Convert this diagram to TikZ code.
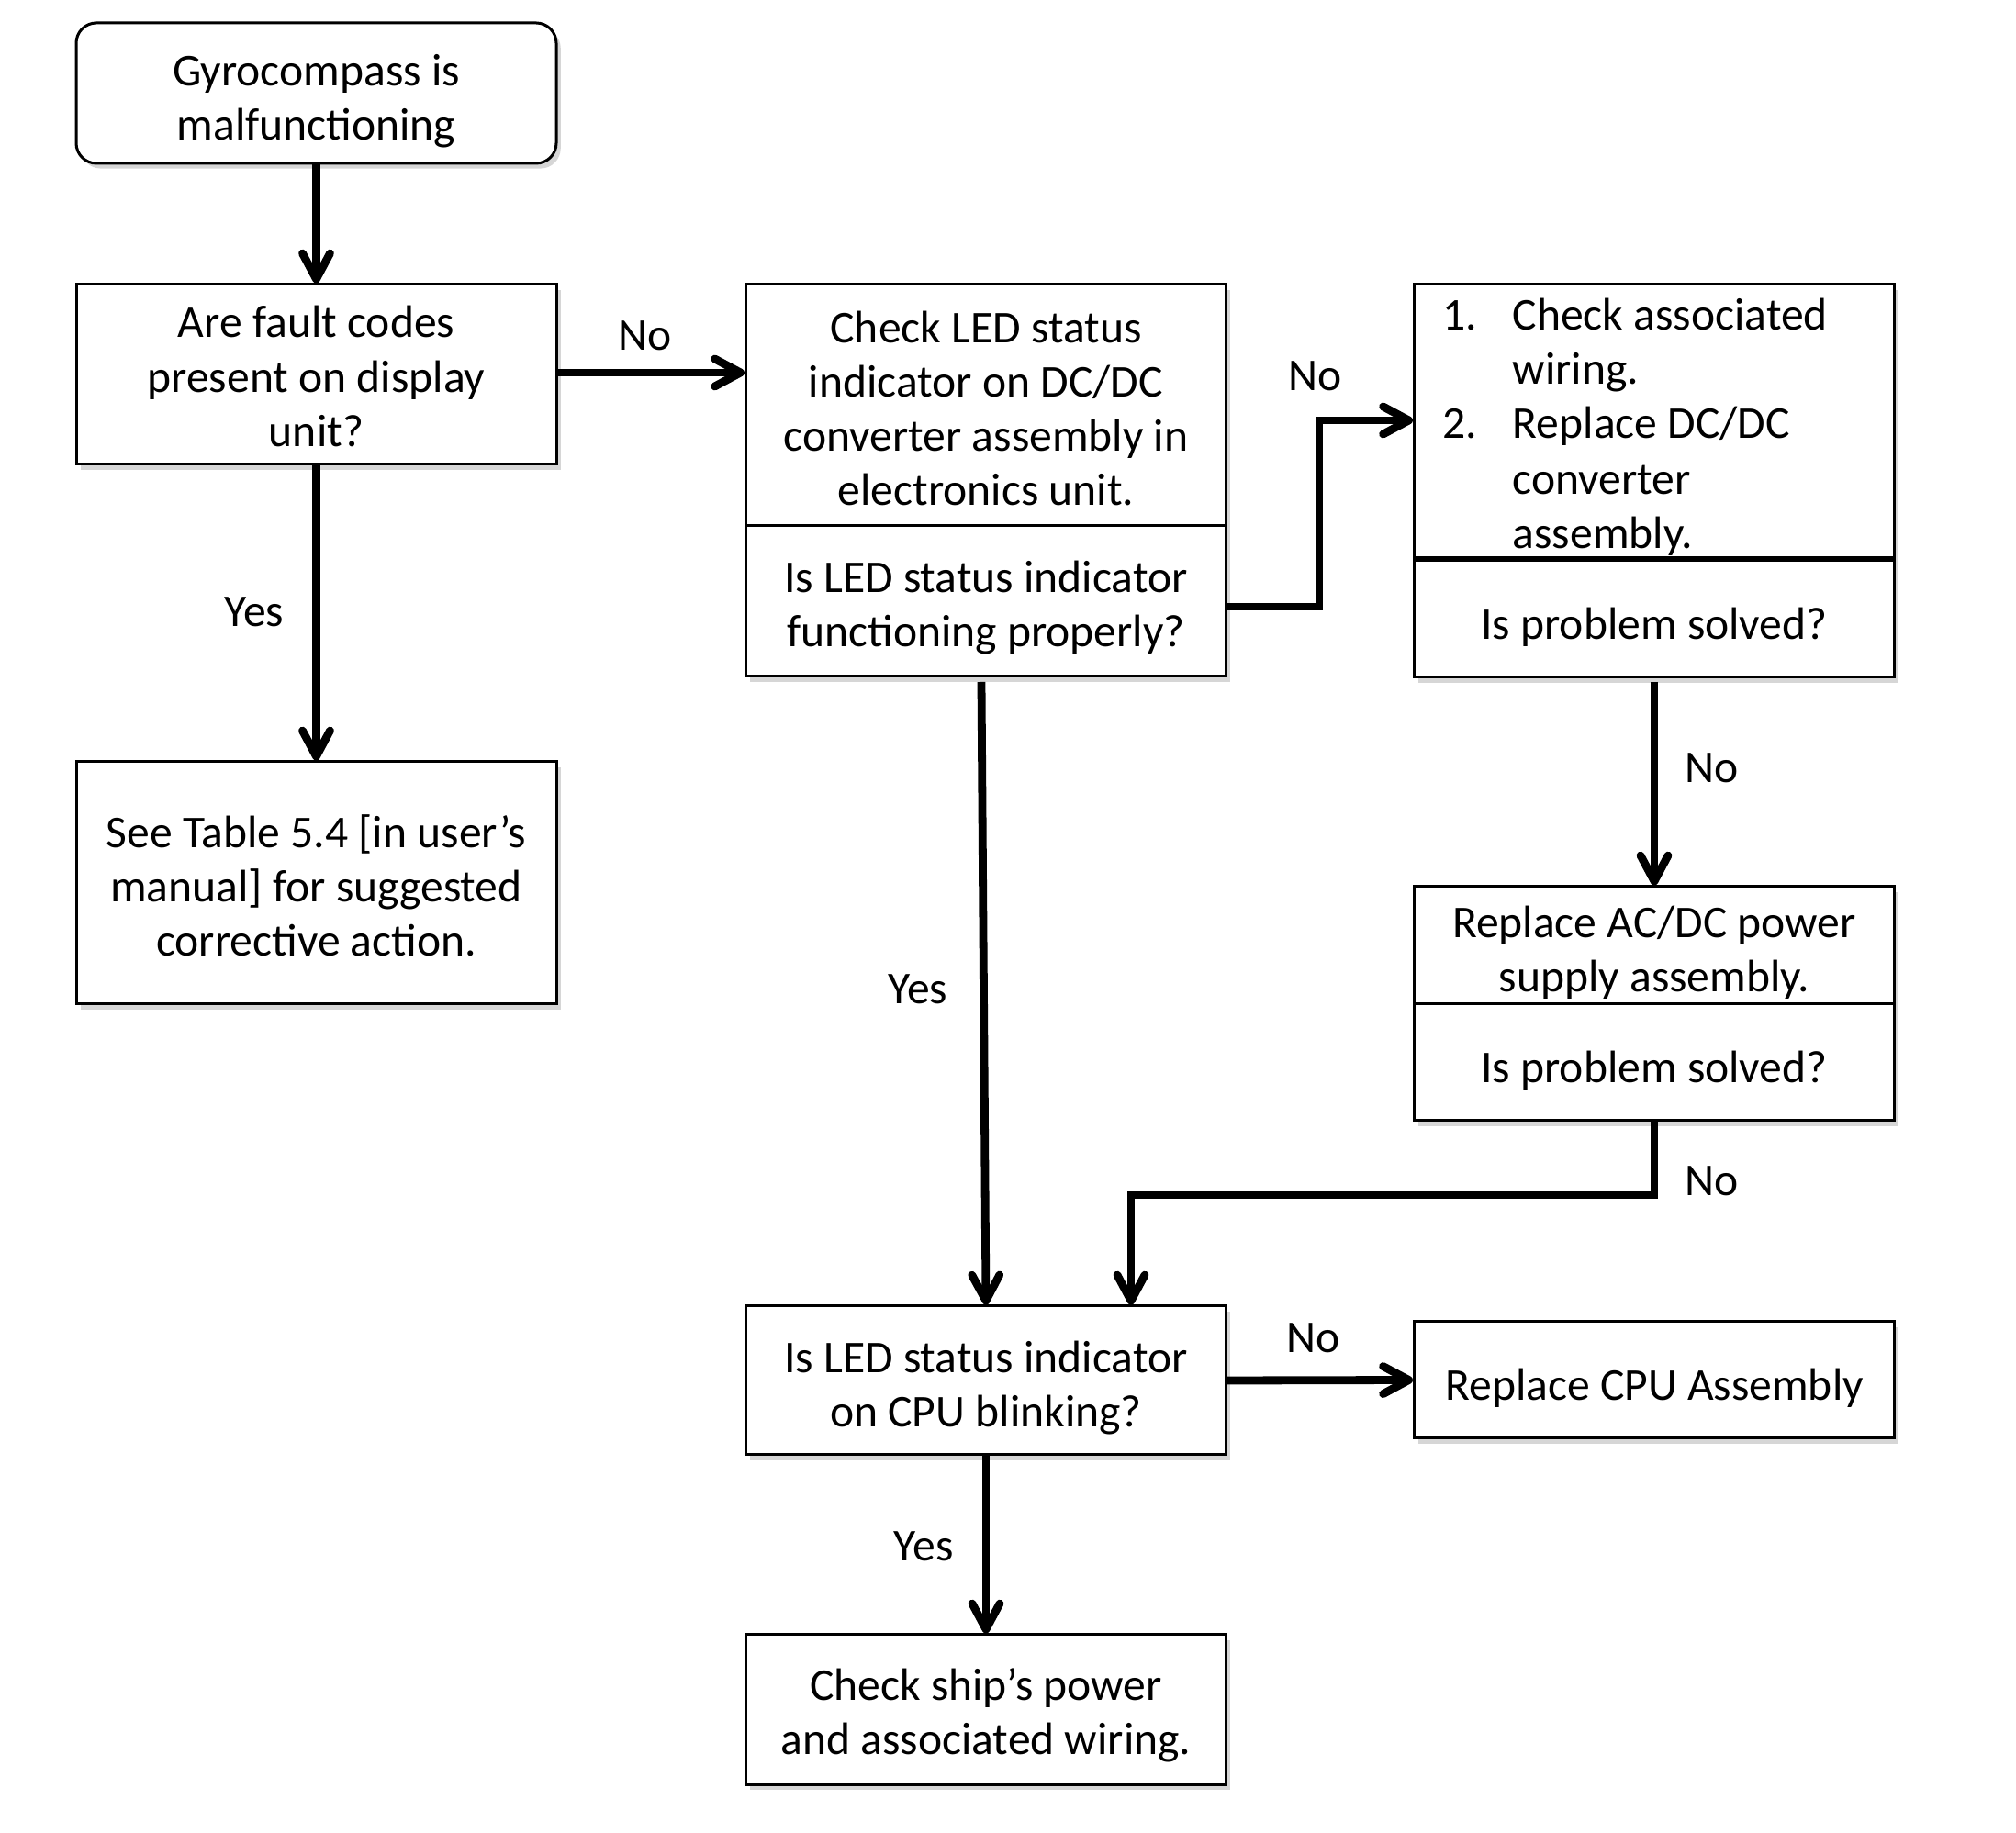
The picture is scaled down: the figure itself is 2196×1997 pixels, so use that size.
\documentclass[tikz,border=0pt]{standalone}
\usepackage{fontspec}
\setmainfont{Carlito}
\usetikzlibrary{arrows.meta,shadows}
\begin{document}
\begin{tikzpicture}[x=0.25pt,y=-0.25pt,
  txt/.style={font=\fontsize{12.4}{14.8}\selectfont, inner sep=0pt, align=center},
  shd/.style={drop shadow={shadow xshift=1.2pt,shadow yshift=-1.4pt,opacity=0.16,fill=black}},
  box/.style={draw, line width=0.75pt, fill=white, shd, minimum width=130.75pt, inner sep=0pt},
  rbox/.style={box, rounded corners=5.5pt},
  arr/.style={line width=2.2pt, -{Straight Barb[length=7pt,width=7.5pt,line width=2.2pt,round]}},
  lbl/.style={txt}]
\useasboundingbox (0,0) rectangle (2196,1997);

% boxes
\node[rbox, minimum height=38.25pt] (start) at (344.5,101.5) {};
\node[txt] (starttxt) at (344.5,110) {Gyrocompass is\\malfunctioning};
\node[box, minimum height=49pt] (q1) at (344.5,408) {};
\node[txt] (q1txt) at (344.5,410) {Are fault codes\\present on display\\unit?};
\node[box, minimum height=66pt] (table) at (344.5,962) {};
\node[txt] (tabletxt) at (344.5,964.5) {See Table 5.4 [in user’s\\manual] for suggested\\corrective action.};

\node[box, minimum height=106.75pt] (led) at (1074,523.5) {};
\draw[line width=0.75pt] (led.west |- 0,573) -- (led.east |- 0,573);
\node[txt] (ledtop) at (1074,445) {Check LED status\\indicator on DC/DC\\converter assembly in\\electronics unit.};
\node[txt] (ledbot) at (1074,662) {Is LED status indicator\\functioning properly?};

\node[box, minimum height=107pt] (fix) at (1802,524) {};
\draw[line width=1.4pt] (fix.west |- 0,609) -- (fix.east |- 0,609);
\node[txt, anchor=base west] (n1) at (1571,360) {1.};
\node[txt, anchor=base west] (l1) at (1647,360) {Check associated};
\node[txt, anchor=base west] (l2) at (1647,419) {wiring.};
\node[txt, anchor=base west] (n2) at (1571,478) {2.};
\node[txt, anchor=base west] (l3) at (1647,478) {Replace DC/DC};
\node[txt, anchor=base west] (l4) at (1647,539) {converter};
\node[txt, anchor=base west] (l5) at (1647,598) {assembly.};
\node[txt] (fixbot) at (1802,683) {Is problem solved?};

\node[box, minimum height=63.75pt] (acdc) at (1802,1093.5) {};
\draw[line width=0.75pt] (acdc.west |- 0,1094) -- (acdc.east |- 0,1094);
\node[txt] (acdctop) at (1802,1037.5) {Replace AC/DC power\\supply assembly.};
\node[txt] (acdcbot) at (1802,1166) {Is problem solved?};

\node[box, minimum height=40.5pt] (cpu) at (1074,1504) {};
\node[txt] (cputxt) at (1074,1512) {Is LED status indicator\\on CPU blinking?};
\node[box, minimum height=31.75pt] (rcpu) at (1802,1503.5) {};
\node[txt] (rcputxt) at (1802,1512) {Replace CPU Assembly};
\node[box, minimum height=40.75pt] (ship) at (1074,1862.5) {};
\node[txt] (shiptxt) at (1074,1869) {Check ship’s power\\and associated wiring.};

% connectors
\draw[arr] (start.south) -- (q1.north);
\draw[arr] (q1.south) -- (table.north);
\draw[arr] (q1.east |- 0,406) -- (led.west |- 0,406);
\coordinate (c1) at (1437,661);
\coordinate (c2) at (1437,458);
\draw[arr] (led.east |- c1) -- (c1) -- (c2) -- (fix.west |- c2);
\coordinate (ledout) at (1069,743);
\draw[arr] (ledout) -- (cpu.north);
\coordinate (fixout) at (1802,743);
\draw[arr] (fixout) -- (acdc.north);
\coordinate (c3) at (1802,1302);
\coordinate (c4) at (1232,1302);
\draw[arr] (acdc.south) -- (c3) -- (c4) -- (c4 |- cpu.north);
\draw[arr] (cpu.east) -- (rcpu.west);
\draw[arr] (cpu.south) -- (ship.north);

% labels
\node[lbl] (y1) at (277,667) {Yes};
\node[lbl] (n1l) at (703,366) {No};
\node[lbl] (n2l) at (1433,410) {No};
\node[lbl] (y2) at (1000,1078) {Yes};
\node[lbl] (n3l) at (1865,837) {No};
\node[lbl] (n4l) at (1865,1287) {No};
\node[lbl] (n5l) at (1431,1458) {No};
\node[lbl] (y3) at (1006,1685) {Yes};
\end{tikzpicture}
\end{document}
